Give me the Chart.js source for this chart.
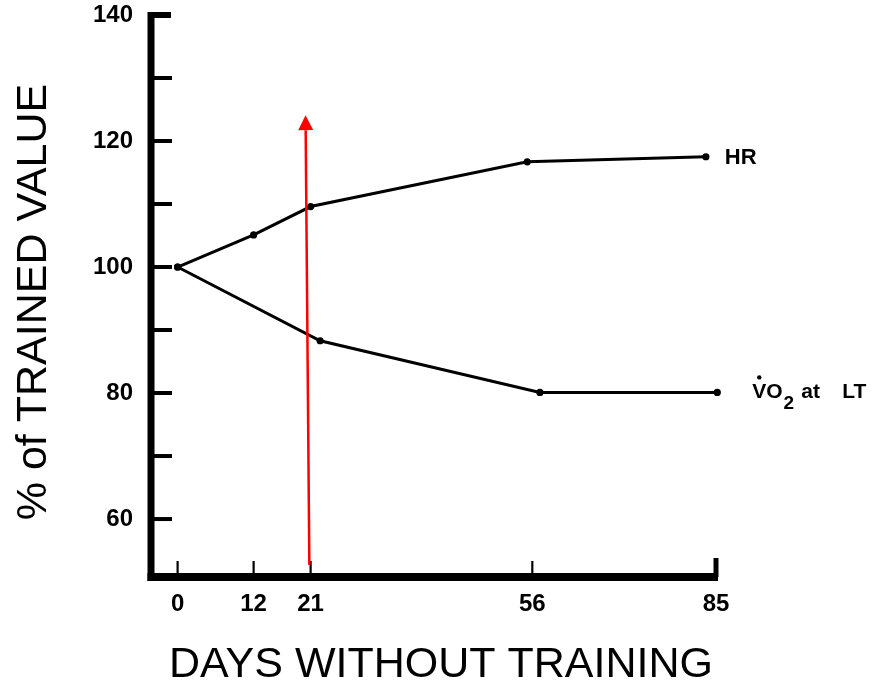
<!DOCTYPE html>
<html>
<head>
<meta charset="utf-8">
<title>Detraining: % of trained value</title>
<script src="https://cdn.jsdelivr.net/npm/chart.js@4/dist/chart.umd.min.js"></script>
<style>
  html, body { margin: 0; padding: 0; background: #fff; }
  #wrap { position: relative; width: 882px; height: 692px; }
</style>
</head>
<body>
<div id="wrap"><canvas id="chart" width="882" height="692"></canvas></div>
<script>
// Days without training at which each measurement was taken
const hrDays   = [0, 12, 21, 55.2, 83.4];
const hrValues = [100, 105.1, 109.6, 116.7, 117.5];

const vo2Days   = [0, 22.5, 57.2, 85.2];
const vo2Values = [100, 88.3, 80.1, 80.1];

// Axis ticks
const xTickValues = [0, 12, 21, 56, 85];
const yTickValues = [60, 70, 80, 90, 100, 110, 120, 130, 140];
const yLabelledTicks = [60, 80, 100, 120, 140];

// Axis ranges
const xRange = [-4.2, 85];
const yRange = [50.8, 140];

// Red arrow marking day 21 (from [day, %] to [day, %])
const arrowFrom = [20.8, 52.7];
const arrowTo   = [20.2, 124.1];

const FONT = "'Liberation Sans', Arial, Helvetica, sans-serif";

function toPoints(xs, ys) { return xs.map((x, i) => ({ x: x, y: ys[i] })); }

// Thick axes with inward tick marks, series labels, arrow and titles
const figurePlugin = {
  id: 'figure',
  afterDatasetsDraw(chart) {
    const ctx = chart.ctx;
    const ca = chart.chartArea;
    const xs = chart.scales.x, ys = chart.scales.y;
    ctx.save();
    ctx.strokeStyle = '#000';
    ctx.lineCap = 'butt';

    // left axis
    ctx.lineWidth = 7;
    ctx.beginPath();
    ctx.moveTo(ca.left, ca.top - 3);
    ctx.lineTo(ca.left, ca.bottom + 4);
    ctx.stroke();
    // cap at the top value
    ctx.lineWidth = 6;
    ctx.beginPath();
    ctx.moveTo(ca.left - 3, ys.getPixelForValue(yRange[1]));
    ctx.lineTo(ca.left + 20, ys.getPixelForValue(yRange[1]));
    ctx.stroke();
    // y tick marks, pointing right
    ctx.lineWidth = 4;
    yTickValues.forEach(v => {
      if (v === yRange[1]) return;
      const py = ys.getPixelForValue(v);
      ctx.beginPath();
      ctx.moveTo(ca.left, py);
      ctx.lineTo(ca.left + 21, py);
      ctx.stroke();
    });

    // bottom axis
    ctx.lineWidth = 8;
    ctx.beginPath();
    ctx.moveTo(ca.left - 3.5, ca.bottom);
    ctx.lineTo(ca.right + 2, ca.bottom);
    ctx.stroke();
    // x tick marks, pointing up
    xTickValues.forEach(v => {
      const px = xs.getPixelForValue(v);
      const last = v === xTickValues[xTickValues.length - 1];
      ctx.lineWidth = last ? 5 : 2.2;
      ctx.beginPath();
      ctx.moveTo(px, ca.bottom);
      ctx.lineTo(px, ca.bottom - (last ? 19 : 16));
      ctx.stroke();
    });

    // series labels next to the last point of each line
    ctx.fillStyle = '#000';
    ctx.textBaseline = 'middle';
    ctx.textAlign = 'left';
    const hrX = xs.getPixelForValue(hrDays[hrDays.length - 1]);
    const hrY = ys.getPixelForValue(hrValues[hrValues.length - 1]);
    ctx.font = 'bold 22px ' + FONT;
    ctx.fillText('HR', hrX + 19, hrY + 1);

    const voX = xs.getPixelForValue(vo2Days[vo2Days.length - 1]);
    const voY = ys.getPixelForValue(vo2Values[vo2Values.length - 1]);
    const tx = voX + 35;
    ctx.font = 'bold 21px ' + FONT;
    ctx.fillText('VO', tx, voY);
    const wV = ctx.measureText('V').width;
    const wVO = ctx.measureText('VO').width;
    // dot over the V
    ctx.beginPath();
    ctx.arc(tx + wV / 2, voY - 15, 2.2, 0, Math.PI * 2);
    ctx.fill();
    ctx.font = 'bold 19px ' + FONT;
    ctx.fillText('2', tx + wVO + 1, voY + 11);
    ctx.font = 'bold 21px ' + FONT;
    ctx.fillText('at', tx + 49, voY);
    ctx.fillText('LT', tx + 90, voY);

    // red arrow
    const ax0 = xs.getPixelForValue(arrowFrom[0]), ay0 = ys.getPixelForValue(arrowFrom[1]);
    const ax1 = xs.getPixelForValue(arrowTo[0]),   ay1 = ys.getPixelForValue(arrowTo[1]);
    const ang = Math.atan2(ay1 - ay0, ax1 - ax0);
    const headLen = 15, headHalf = 7.5;
    const bx = ax1 - headLen * Math.cos(ang), by = ay1 - headLen * Math.sin(ang);
    ctx.strokeStyle = '#ff0000';
    ctx.fillStyle = '#ff0000';
    ctx.lineWidth = 2.5;
    ctx.beginPath();
    ctx.moveTo(ax0, ay0);
    ctx.lineTo(bx, by);
    ctx.stroke();
    ctx.beginPath();
    ctx.moveTo(ax1, ay1);
    ctx.lineTo(bx + headHalf * Math.sin(ang), by - headHalf * Math.cos(ang));
    ctx.lineTo(bx - headHalf * Math.sin(ang), by + headHalf * Math.cos(ang));
    ctx.closePath();
    ctx.fill();

    // axis titles
    ctx.fillStyle = '#000';
    ctx.textAlign = 'center';
    ctx.textBaseline = 'middle';
    ctx.font = '43px ' + FONT;
    ctx.fillText('DAYS WITHOUT TRAINING', 441, 665);
    ctx.save();
    ctx.translate(34, 302);
    ctx.rotate(-Math.PI / 2);
    ctx.font = '43px ' + FONT;
    ctx.fillText('% of TRAINED VALUE', 0, 0);
    ctx.restore();

    ctx.restore();
  }
};

const lineStyle = {
  borderColor: '#000',
  backgroundColor: '#000',
  borderWidth: 3,
  pointRadius: 3.6,
  pointBackgroundColor: '#000',
  pointBorderColor: '#000',
  pointBorderWidth: 0,
  tension: 0,
  fill: false,
  clip: false
};

new Chart(document.getElementById('chart'), {
  type: 'line',
  data: {
    datasets: [
      Object.assign({ label: 'HR', data: toPoints(hrDays, hrValues) }, lineStyle),
      Object.assign({ label: 'VO2 at LT', data: toPoints(vo2Days, vo2Values) }, lineStyle)
    ]
  },
  options: {
    responsive: false,
    animation: false,
    devicePixelRatio: 1,
    layout: { padding: { top: 15, right: 166, left: 0, bottom: 0 } },
    plugins: { legend: { display: false }, tooltip: { enabled: false }, title: { display: false } },
    scales: {
      x: {
        type: 'linear',
        min: xRange[0],
        max: xRange[1],
        grid: { display: false, drawTicks: false },
        border: { display: false },
        afterBuildTicks: s => { s.ticks = xTickValues.map(v => ({ value: v })); },
        afterFit: s => { s.height = 115; s.paddingLeft = 0; s.paddingRight = 0; },
        ticks: {
          autoSkip: false,
          maxRotation: 0,
          padding: 13,
          color: '#000',
          font: { family: FONT, size: 24, weight: 'bold' },
          callback: v => String(v)
        }
      },
      y: {
        type: 'linear',
        min: yRange[0],
        max: yRange[1],
        grid: { display: false, drawTicks: false },
        border: { display: false },
        afterBuildTicks: s => { s.ticks = yTickValues.map(v => ({ value: v })); },
        afterFit: s => { s.width = 151; s.paddingTop = 0; s.paddingBottom = 0; },
        ticks: {
          autoSkip: false,
          padding: 18,
          color: '#000',
          font: { family: FONT, size: 24, weight: 'bold' },
          callback: v => (yLabelledTicks.includes(v) ? String(v) : '')
        }
      }
    }
  },
  plugins: [figurePlugin]
});
</script>
</body>
</html>
